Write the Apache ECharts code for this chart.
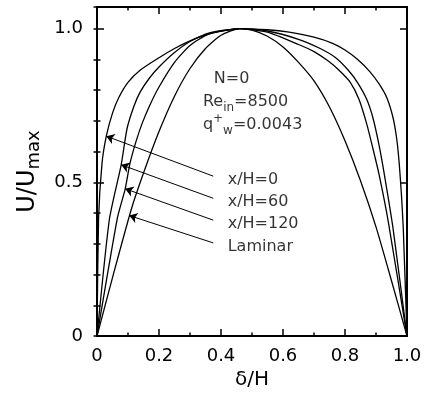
<!DOCTYPE html>
<html>
<head>
<meta charset="utf-8">
<script src="https://cdn.jsdelivr.net/npm/echarts@6/dist/echarts.min.js"></script>
<style>
  html, body { margin: 0; padding: 0; background: #fff; }
  #chart { width: 428px; height: 395px; }
</style>
</head>
<body>
<div id="chart"></div>
<script>
// velocity profiles U/Umax against delta/H
const xH0 = [0, 0.005, 0.016, 0.03, 0.05, 0.07, 0.10, 0.14, 0.20, 0.25, 0.30, 0.36, 0.46, 0.55, 0.62, 0.70, 0.76, 0.80, 0.84, 0.88, 0.91, 0.935, 0.955, 0.967, 0.975, 0.982, 0.988, 1.0];
const uH0 = [0, 0.38, 0.56, 0.65, 0.725, 0.775, 0.825, 0.865, 0.905, 0.935, 0.96, 0.983, 1.0, 0.996, 0.988, 0.972, 0.952, 0.93, 0.90, 0.86, 0.82, 0.775, 0.71, 0.64, 0.56, 0.46, 0.35, 0];

const xH60 = [0, 0.04, 0.078, 0.097, 0.12, 0.14, 0.17, 0.20, 0.25, 0.30, 0.36, 0.46, 0.55, 0.65, 0.72, 0.77, 0.81, 0.84, 0.87, 0.89, 0.91, 0.927, 0.955, 1.0];
const uH60 = [0, 0.38, 0.557, 0.675, 0.75, 0.795, 0.84, 0.875, 0.922, 0.958, 0.985, 1.0, 0.992, 0.965, 0.935, 0.905, 0.865, 0.825, 0.77, 0.71, 0.62, 0.525, 0.35, 0];

const xH120 = [0, 0.066, 0.091, 0.106, 0.125, 0.145, 0.17, 0.20, 0.25, 0.30, 0.36, 0.46, 0.55, 0.65, 0.70, 0.745, 0.78, 0.817, 0.845, 0.87, 0.89, 0.91, 0.94, 1.0];
const uH120 = [0, 0.385, 0.479, 0.56, 0.63, 0.69, 0.75, 0.81, 0.89, 0.945, 0.982, 1.0, 0.988, 0.948, 0.925, 0.895, 0.865, 0.825, 0.77, 0.69, 0.61, 0.525, 0.37, 0];

const xLam = [0, 0.05, 0.11, 0.15, 0.20, 0.25, 0.30, 0.35, 0.40, 0.46, 0.50, 0.55, 0.60, 0.65, 0.70, 0.75, 0.80, 0.85, 0.90, 0.95, 1.0];
const uLam = [0, 0.19, 0.41, 0.53, 0.665, 0.78, 0.87, 0.935, 0.978, 1.0, 0.995, 0.975, 0.94, 0.89, 0.83, 0.745, 0.635, 0.505, 0.355, 0.18, 0];

// legend labels with arrows pointing to each curve
const curveNames = ['x/H=0', 'x/H=60', 'x/H=120', 'Laminar'];
const labelPos = [[0.42, 0.507], [0.42, 0.436], [0.42, 0.365], [0.42, 0.291]];
const arrowTail = [[0.375, 0.52], [0.375, 0.448], [0.375, 0.377], [0.375, 0.303]];
const arrowTip = [[0.03, 0.65], [0.078, 0.557], [0.091, 0.479], [0.104, 0.392]];

// condition text block
const infoText = ['{m|N=0}', '{m|Re}{sub|in}{m|=8500}', '{m|q}{sup|+}{sub|w}{m|=0.0043}'];
const infoPos = [[0.375, 0.837], [0.34, 0.762], [0.34, 0.688]];

const FONT = 'DejaVu Sans';
const zip = (xs, ys) => xs.map((x, i) => [x, ys[i]]);

function curve(xs, ys) {
    return {
        type: 'line',
        data: zip(xs, ys),
        showSymbol: false,
        smooth: 0.2,
        lineStyle: { color: '#000', width: 1.3 },
        silent: true
    };
}

const frameLine = { show: true, onZero: false, lineStyle: { color: '#000', width: 2 } };
const noSplit = { show: false };

function xAxisCfg(pos, labels) {
    return {
        type: 'value', position: pos, min: 0, max: 1, interval: 0.2,
        axisLine: frameLine,
        axisTick: { inside: true, length: 7, lineStyle: { color: '#000', width: 1.5 } },
        minorTick: { show: true, splitNumber: 2, length: 3.5, lineStyle: { color: '#000', width: 1.5 } },
        splitLine: noSplit, minorSplitLine: noSplit,
        axisLabel: {
            show: labels, margin: 11, color: '#000', fontSize: 18, fontFamily: FONT,
            formatter: v => v === 0 ? '0' : v.toFixed(1)
        },
        name: labels ? 'δ/H' : '', nameLocation: 'middle', nameGap: 31,
        nameTextStyle: { color: '#000', fontSize: 20, fontFamily: FONT }
    };
}

function yAxisCfg(pos, major) {
    return {
        type: 'value', position: pos, min: 0, max: 1.07, interval: major ? 0.5 : 0.1,
        axisLine: major ? frameLine : { show: false },
        axisTick: { inside: true, length: major ? 7 : 3.5, lineStyle: { color: '#000', width: 1.5 } },
        splitLine: noSplit,
        axisLabel: {
            show: major && pos === 'left', margin: 14, color: '#000', fontSize: 18, fontFamily: FONT,
            formatter: v => {
                if (Math.abs(v) < 1e-6) return '0';
                if (Math.abs(v - 0.5) < 1e-6) return '0.5';
                if (Math.abs(v - 1) < 1e-6) return '1.0';
                return '';
            }
        },
        name: major && pos === 'left' ? 'U/U{sub|max}' : '', nameLocation: 'middle', nameGap: 52,
        nameTextStyle: {
            color: '#000', fontSize: 24, fontFamily: FONT,
            rich: { sub: { fontSize: 18, fontFamily: FONT, color: '#000', verticalAlign: 'bottom', lineHeight: 18 } },
            lineHeight: 32
        }
    };
}

const chart = echarts.init(document.getElementById('chart'), null, { renderer: 'canvas' });

const option = {
    animation: false,
    backgroundColor: '#fff',
    grid: { left: 97, right: 21, top: 7, bottom: 57 },
    xAxis: [xAxisCfg('bottom', true), xAxisCfg('top', false)],
    yAxis: [yAxisCfg('left', true), yAxisCfg('left', false), yAxisCfg('right', true), yAxisCfg('right', false)],
    series: [
        curve(xH0, uH0),
        curve(xH60, uH60),
        curve(xH120, uH120),
        curve(xLam, uLam),
        {
            type: 'lines',
            coordinateSystem: 'cartesian2d',
            silent: true,
            symbol: ['none', 'arrow'],
            symbolSize: 8,
            lineStyle: { color: '#000', width: 1, opacity: 1 },
            data: arrowTail.map((t, i) => ({ coords: [t, arrowTip[i]] }))
        },
        {
            type: 'scatter',
            silent: true,
            symbolSize: 1,
            itemStyle: { color: 'rgba(0,0,0,0)' },
            label: {
                show: true, position: 'right', distance: 0, color: '#000',
                fontSize: 16, fontFamily: FONT,
                formatter: p => p.data.txt
            },
            data: curveNames.map((n, i) => ({ value: labelPos[i], txt: n }))
        },
        {
            type: 'scatter',
            silent: true,
            symbolSize: 1,
            itemStyle: { color: 'rgba(0,0,0,0)' },
            label: {
                show: true, position: 'right', distance: 0,
                formatter: p => p.data.txt,
                rich: {
                    m: { fontSize: 16, fontFamily: FONT, color: '#000', lineHeight: 24 },
                    sub: { fontSize: 12, fontFamily: FONT, color: '#000', lineHeight: 13, verticalAlign: 'bottom' },
                    sup: { fontSize: 12, fontFamily: FONT, color: '#000', lineHeight: 13, verticalAlign: 'top' }
                }
            },
            data: infoText.map((t, i) => ({ value: infoPos[i], txt: t }))
        }
    ]
};

chart.setOption(option);
</script>
</body>
</html>
